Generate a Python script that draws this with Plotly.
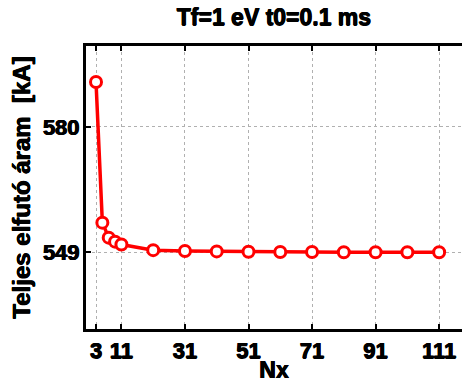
import plotly.graph_objects as go

nx = [3, 5, 7, 9, 11, 21, 31, 41, 51, 61, 71, 81, 91, 101, 111]
current = [591.1, 556.3, 552.6, 551.6, 550.9, 549.5, 549.3, 549.2, 549.1, 549.05, 549.05, 549.0, 549.0, 549.0, 549.0]
x_ticks = [3, 11, 31, 51, 71, 91, 111]
y_ticks = [549, 580]

heavy = "0.5px 0 0 black, -0.5px 0 0 black, 0 0.4px 0 black"
font = dict(family="Arial", color="black", weight=700, shadow=heavy)

fig = go.Figure(go.Scatter(
    x=nx, y=current, mode="lines+markers",
    line=dict(color="#ff0000", width=3.5),
    marker=dict(symbol="circle", size=11, color="white", line=dict(color="#ff0000", width=3)),
))

fig.update_layout(
    width=462, height=383,
    margin=dict(l=86, r=0, t=46, b=53.5),
    paper_bgcolor="white", plot_bgcolor="white",
    showlegend=False,
    font=font,
    title=dict(text="<b>Tf=1 eV t0=0.1 ms</b>", x=0.593, xanchor="center", y=0.955, yanchor="middle",
               font=dict(size=23, **font)),
)
axis_common = dict(
    showline=True, linecolor="black", linewidth=3,
    ticks="inside", ticklen=5, tickwidth=2, tickcolor="black",
    showgrid=True, gridcolor="#b0b0b0", gridwidth=1.2, griddash="dot",
    zeroline=False, tickfont=dict(size=22, **font),
)
fig.update_xaxes(
    range=[-0.15, 118.2], tickvals=x_ticks, ticktext=[f"<b>{v}</b>" for v in x_ticks], mirror="ticks",
    title=dict(text="<b>Nx</b>", font=dict(size=23, **font), standoff=2),
    **axis_common,
)
fig.update_yaxes(
    range=[530, 600], tickvals=y_ticks, ticktext=[f"<b>{v}</b>" for v in y_ticks], mirror=False,
    ticklabelstandoff=-1,
    title=dict(text="<b>Teljes elfutó áram  [kA]</b>", font=dict(size=24, **font), standoff=6),
    **axis_common,
)
fig.write_html("out.html")
